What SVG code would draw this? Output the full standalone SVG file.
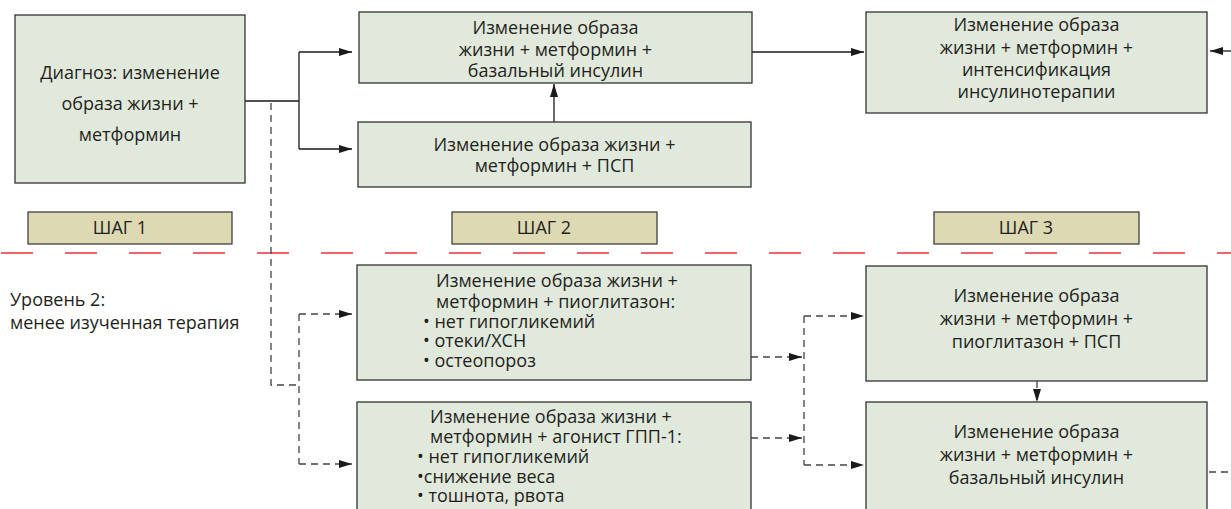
<svg xmlns="http://www.w3.org/2000/svg" width="1231" height="509" viewBox="0 0 1231 509">
<style>
.box{fill:#e1e9dc;stroke:#333;stroke-width:1.3}
.step{fill:#ddd9b3;stroke:#333;stroke-width:1.2}
text{font-family:"Open Sans","Noto Sans",sans-serif;font-size:18px;fill:#231f20}
.c{text-anchor:middle}
.solid{fill:none;stroke:#1a1a1a;stroke-width:1.3}
.dash{fill:none;stroke:#444;stroke-width:1.3;stroke-dasharray:7 5}
.red{fill:none;stroke:#e8303a;stroke-width:1.5;stroke-dasharray:32 32}
</style>
<defs>
<marker id="ah" viewBox="0 0 13 8" refX="13" refY="4" markerWidth="13" markerHeight="8" markerUnits="userSpaceOnUse" orient="auto">
<path d="M0,0 L13,4 L0,8 Z" fill="#1a1a1a"/>
</marker>
</defs>
<line class="red" x1="1" y1="253" x2="1231" y2="253"/>
<g id="connectors">
<path class="solid" d="M245,101 H299 M299,52 V149"/>
<path class="solid" d="M299,52 H352" marker-end="url(#ah)"/>
<path class="solid" d="M299,149 H352" marker-end="url(#ah)"/>
<path class="solid" d="M554,122 V84" marker-end="url(#ah)"/>
<path class="solid" d="M752,52 H864" marker-end="url(#ah)"/>
<path class="solid" d="M1231,51 H1210" marker-end="url(#ah)"/>
<path class="dash" d="M271,103 V385 H299 M299,314 V464"/>
<path class="dash" d="M299,314 H352" marker-end="url(#ah)"/>
<path class="dash" d="M299,464 H352" marker-end="url(#ah)"/>
<path class="dash" d="M751,357 H802" marker-end="url(#ah)"/>
<path class="dash" d="M751,438 H802" marker-end="url(#ah)"/>
<path class="dash" d="M804,316 V465"/>
<path class="dash" d="M804,316 H864" marker-end="url(#ah)"/>
<path class="dash" d="M804,465 H864" marker-end="url(#ah)"/>
<path class="dash" d="M1037,381 V402" marker-end="url(#ah)"/>
<path class="dash" d="M1209,472 H1231"/>
</g>
<g id="n1"><rect class="box" x="15" y="15" width="230" height="168"/>
<text class="c" x="130" y="79">Диагноз: изменение</text>
<text class="c" x="130" y="110">образа жизни +</text>
<text class="c" x="130" y="141">метформин</text></g>
<g id="n2"><rect class="box" x="359" y="12" width="393" height="71"/>
<text class="c" x="555.5" y="34">Изменение образа</text>
<text class="c" x="555.5" y="56">жизни + метформин +</text>
<text class="c" x="555.5" y="77">базальный инсулин</text></g>
<g id="n3"><rect class="box" x="358" y="122" width="393" height="65"/>
<text class="c" x="554.5" y="151">Изменение образа жизни +</text>
<text class="c" x="554.5" y="172">метформин + ПСП</text></g>
<g id="n4"><rect class="box" x="866" y="12" width="341" height="101"/>
<text class="c" x="1036.5" y="31">Изменение образа</text>
<text class="c" x="1036.5" y="54">жизни + метформин +</text>
<text class="c" x="1036.5" y="76">интенсификация</text>
<text class="c" x="1036.5" y="98">инсулинотерапии</text></g>
<g id="s1"><rect class="step" x="28" y="212" width="204" height="32"/><text class="c" x="120" y="234">ШАГ 1</text></g>
<g id="s2"><rect class="step" x="452" y="212" width="205" height="32"/><text class="c" x="544" y="234">ШАГ 2</text></g>
<g id="s3"><rect class="step" x="934" y="212" width="205" height="32"/><text class="c" x="1026" y="234">ШАГ 3</text></g>
<g id="lvl"><text x="10" y="306">Уровень 2:</text><text x="10" y="329">менее изученная терапия</text></g>
<g id="n5"><rect class="box" x="357" y="265" width="394" height="115"/>
<text x="436" y="287">Изменение образа жизни +</text>
<text x="436" y="308">метформин + пиоглитазон:</text>
<text x="423" y="328">• нет гипогликемий</text>
<text x="423" y="347">• отеки/ХСН</text>
<text x="423" y="367">• остеопороз</text></g>
<g id="n6"><rect class="box" x="357" y="402" width="394" height="115"/>
<text x="430" y="423">Изменение образа жизни +</text>
<text x="430" y="443">метформин + агонист ГПП-1:</text>
<text x="417" y="463">• нет гипогликемий</text>
<text x="417" y="483">•снижение веса</text>
<text x="417" y="502">• тошнота, рвота</text></g>
<g id="n7"><rect class="box" x="866" y="266" width="341" height="115"/>
<text class="c" x="1036.5" y="302">Изменение образа</text>
<text class="c" x="1036.5" y="325">жизни + метформин +</text>
<text class="c" x="1036.5" y="348">пиоглитазон + ПСП</text></g>
<g id="n8"><rect class="box" x="866" y="402" width="341" height="115"/>
<text class="c" x="1036.5" y="438">Изменение образа</text>
<text class="c" x="1036.5" y="461">жизни + метформин +</text>
<text class="c" x="1036.5" y="484">базальный инсулин</text></g>
</svg>
